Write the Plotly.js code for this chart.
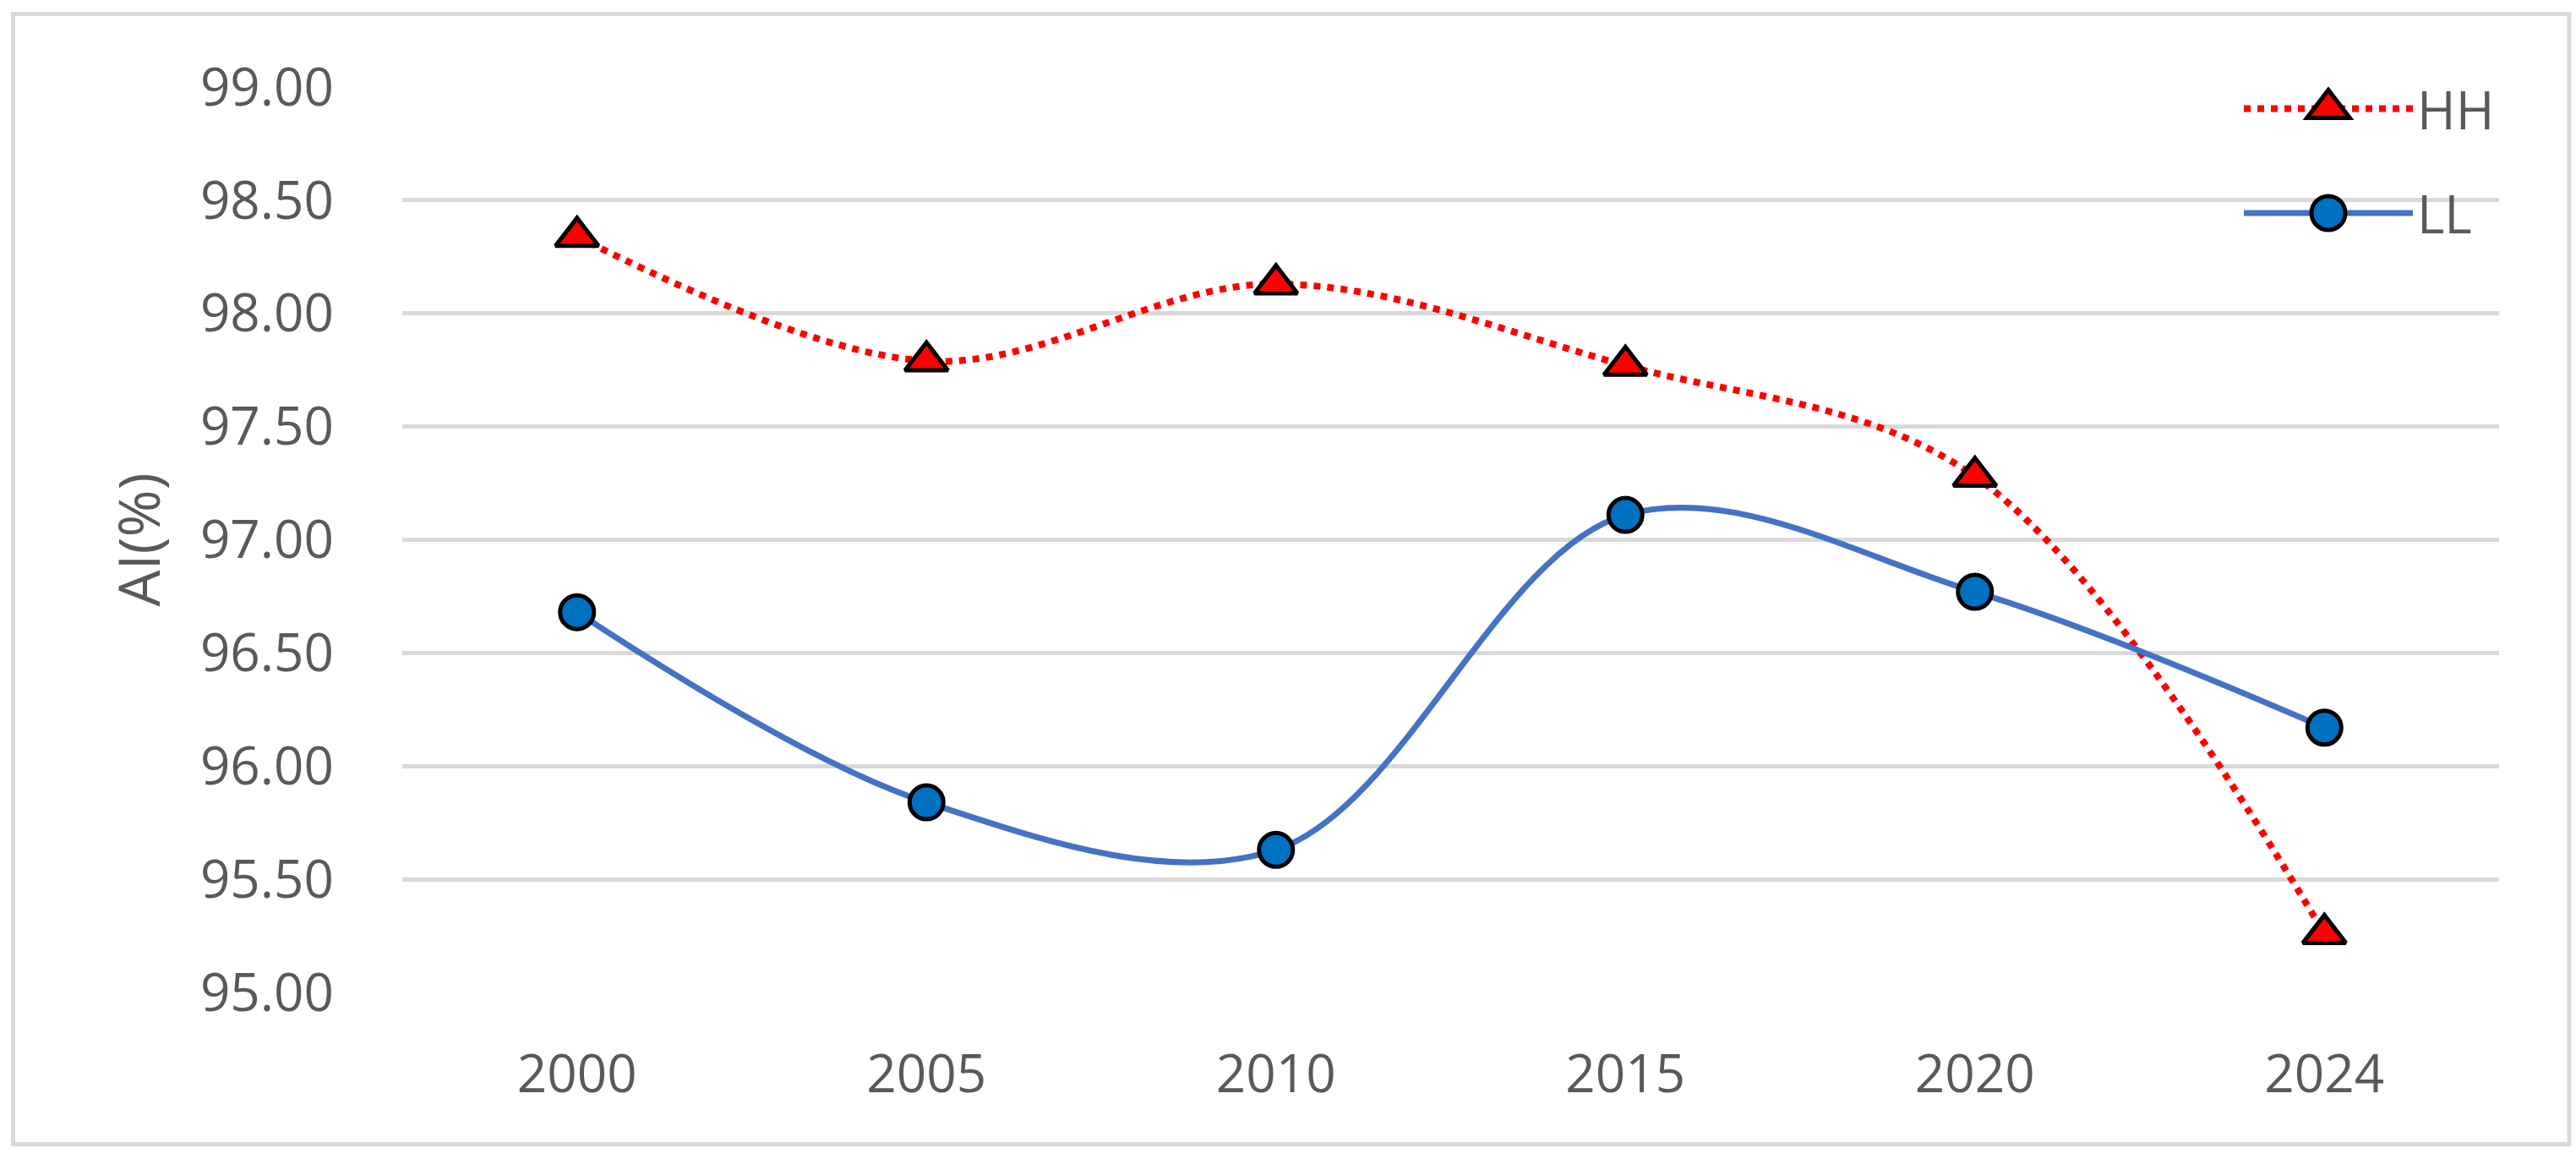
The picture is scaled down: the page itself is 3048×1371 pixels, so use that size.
<!DOCTYPE html>
<html>
<head>
<meta charset="utf-8">
<script src="https://cdn.plot.ly/plotly-3.0.1.min.js"></script>
<style>
  html, body { margin: 0; padding: 0; background: #ffffff; }
  #chart { width: 3048px; height: 1371px; }
</style>
</head>
<body>
<div id="chart"></div>
<script>
// ---- data ----
const years = ['2000', '2005', '2010', '2015', '2020', '2024'];
const hhValues = [98.34, 97.79, 98.13, 97.77, 97.28, 95.26];
const llValues = [96.68, 95.84, 95.63, 97.11, 96.77, 96.17];
const seriesNames = ['HH', 'LL'];
const yAxisTitle = 'AI(%)';
const yTickValues = [95.00, 95.50, 96.00, 96.50, 97.00, 97.50, 98.00, 98.50, 99.00];

const FONT = '"Open Sans", "Noto Sans", sans-serif';
const TXT = '#595959';

const HH_MARKER = 44, LL_MARKER = 40, MARKER_LW = 5;

const traceHH = {
  type: 'scatter', mode: 'lines+markers',
  x: years, y: hhValues, name: seriesNames[0],
  legendgroup: 'hh',
  line: { color: '#FF0000', width: 8, dash: 'dot', shape: 'spline', smoothing: 1 },
  marker: { symbol: 'triangle-up', size: HH_MARKER, color: '#FF0000', line: { color: '#000000', width: MARKER_LW } }
};
const traceLL = {
  type: 'scatter', mode: 'lines+markers',
  x: years, y: llValues, name: seriesNames[1],
  legendgroup: 'll',
  line: { color: '#4472C4', width: 7, shape: 'spline', smoothing: 1 },
  marker: { symbol: 'circle', size: LL_MARKER, color: '#0070C0', line: { color: '#000000', width: MARKER_LW } }
};

const L = 476, R = 2957, T = 103, B = 1174;
const W = 3048, H = 1371;
const pw = R - L, ph = B - T;
const px = v => (v - L) / pw;
const py = v => (B - v) / ph;

const layout = {
  width: W, height: H,
  margin: { l: L, r: W - R, t: T, b: H - B, pad: 0 },
  paper_bgcolor: '#FFFFFF', plot_bgcolor: '#FFFFFF',
  font: { family: FONT, size: 62, color: TXT },
  showlegend: true,
  legend: {
    x: 1, xanchor: 'right', y: 1.02, yanchor: 'top',
    bgcolor: 'rgba(0,0,0,0)', borderwidth: 0,
    font: { family: FONT, size: 62, color: TXT },
    traceorder: 'grouped', tracegroupgap: 40, itemwidth: 200
  },
  xaxis: {
    type: 'category', categoryorder: 'array', categoryarray: years,
    range: [-0.5, years.length - 0.5], autorange: false,
    showgrid: false, zeroline: false, showline: false, ticks: '',
    tickfont: { family: FONT, size: 62, color: TXT },
    ticklabelstandoff: 55
  },
  yaxis: {
    range: [95, 99], autorange: false, tickvals: yTickValues, tickformat: '.2f',
    showgrid: true, gridcolor: '#D9D9D9', gridwidth: 5,
    zeroline: false, showline: false, ticks: '',
    tickfont: { family: FONT, size: 62, color: TXT },
    ticklabelstandoff: 80
  },
  annotations: [{
    xref: 'paper', yref: 'paper', x: px(162), y: 0.5,
    xanchor: 'center', yanchor: 'middle', textangle: -90,
    text: yAxisTitle, showarrow: false,
    font: { family: FONT, size: 68, color: TXT }
  }],
  shapes: [{
    type: 'rect', xref: 'paper', yref: 'paper', layer: 'below',
    x0: px(15.5), x1: px(3040), y0: py(1353.5), y1: py(16.5),
    line: { color: '#D9D9D9', width: 5 }, fillcolor: 'rgba(0,0,0,0)'
  }]
};

Plotly.newPlot('chart', [traceHH, traceLL], layout, { displayModeBar: false, staticPlot: true })
  .then(gd => {
    // Plotly caps legend marker size at 16px; enlarge the legend symbols to match the plot markers.
    const sizes = [HH_MARKER, LL_MARKER];
    gd.querySelectorAll('.legend .traces').forEach((g, i) => {
      const s = (sizes[i] || 16) / 16;
      g.querySelectorAll('.legendpoints path.scatterpts').forEach(p => {
        const tr = p.getAttribute('transform') || '';
        p.setAttribute('transform', tr + ' scale(' + s + ')');
        p.style.strokeWidth = (MARKER_LW / s) + 'px';
      });
    });
  });
</script>
</body>
</html>
